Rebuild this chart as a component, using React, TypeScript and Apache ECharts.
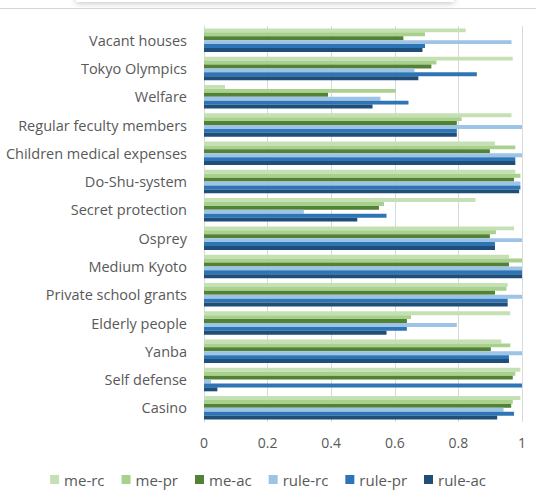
import React, { useEffect, useRef } from "react";
import * as echarts from "echarts";

const categories = [
  "Vacant houses",
  "Tokyo Olympics",
  "Welfare",
  "Regular feculty members",
  "Children medical expenses",
  "Do-Shu-system",
  "Secret protection",
  "Osprey",
  "Medium Kyoto",
  "Private school grants",
  "Elderly people",
  "Yanba",
  "Self defense",
  "Casino",
];

const seriesNames = ["me-rc", "me-pr", "me-ac", "rule-rc", "rule-pr", "rule-ac"];
const seriesColors = ["#c5e0b4", "#a9d18e", "#548235", "#9dc3e6", "#2e75b6", "#1f4e79"];

const meRc = [0.823, 0.971, 0.066, 0.967, 0.915, 0.979, 0.854, 0.975, 0.959, 0.955, 0.963, 0.935, 0.995, 0.995];
const mePr = [0.695, 0.731, 0.603, 0.81, 0.979, 0.995, 0.566, 0.918, 1.0, 0.951, 0.651, 0.963, 0.979, 0.971];
const meAc = [0.627, 0.715, 0.39, 0.795, 0.899, 0.975, 0.55, 0.899, 0.959, 0.915, 0.638, 0.902, 0.971, 0.966];
const ruleRc = [0.967, 0.662, 0.555, 1.0, 1.0, 0.995, 0.314, 1.0, 1.0, 1.0, 0.795, 1.0, 0.022, 0.942];
const rulePr = [0.695, 0.858, 0.643, 0.795, 0.979, 0.995, 0.574, 0.915, 1.0, 0.955, 0.638, 0.959, 1.0, 0.975];
const ruleAc = [0.687, 0.674, 0.53, 0.795, 0.979, 0.991, 0.482, 0.915, 1.0, 0.955, 0.574, 0.959, 0.042, 0.922];

const seriesValues = [meRc, mePr, meAc, ruleRc, rulePr, ruleAc];

const xTicks = [0, 0.2, 0.4, 0.6, 0.8, 1];

const FONT = "'Open Sans', 'Noto Sans', sans-serif";

export default function App() {
  const ref = useRef<HTMLDivElement>(null);

  useEffect(() => {
    document.body.style.margin = "0";
    if (!ref.current) return;
    const chart = echarts.init(ref.current, null, { renderer: "svg" });
    chart.setOption({
      animation: false,
      backgroundColor: "#ffffff",
      textStyle: { fontFamily: FONT },
      graphic: [
        {
          type: "rect",
          shape: { x: 76, y: -20, width: 378, height: 22 },
          style: { fill: "#ffffff", shadowBlur: 6, shadowColor: "rgba(0,0,0,0.25)", shadowOffsetY: 1 },
          silent: true,
        },
        {
          type: "line",
          shape: { x1: 0, y1: 8.5, x2: 536, y2: 8.5 },
          style: { stroke: "#d4d4d4", lineWidth: 1 },
          silent: true,
        },
      ],
      grid: { left: 204, right: 14, top: 26, bottom: 75, containLabel: false },
      legend: {
        data: seriesNames,
        bottom: 5,
        left: "center",
        itemWidth: 9,
        itemHeight: 9,
        itemGap: 17,
        icon: "rect",
        textStyle: { color: "#595959", fontSize: 15, fontFamily: FONT },
      },
      xAxis: {
        type: "value",
        min: xTicks[0],
        max: xTicks[xTicks.length - 1],
        interval: 0.2,
        axisLine: { show: false },
        axisTick: { show: false },
        splitLine: { show: true, lineStyle: { color: "#d9d9d9", width: 1 } },
        axisLabel: {
          color: "#595959",
          fontSize: 14,
          margin: 13,
          fontFamily: FONT,
          formatter: (v: number) => String(Math.round(v * 10) / 10),
        },
      },
      yAxis: {
        type: "category",
        data: categories,
        inverse: true,
        axisLine: { show: true, lineStyle: { color: "#d9d9d9", width: 1 } },
        axisTick: { show: false },
        axisLabel: { color: "#595959", fontSize: 14.5, margin: 17, fontFamily: FONT },
      },
      series: seriesNames.map((name, i) => ({
        name,
        type: "bar",
        data: seriesValues[i],
        itemStyle: { color: seriesColors[i] },
        barGap: "0%",
        barCategoryGap: "17%",
      })),
    });
    return () => chart.dispose();
  }, []);

  return <div ref={ref} style={{ width: 536, height: 497 }} />;
}
